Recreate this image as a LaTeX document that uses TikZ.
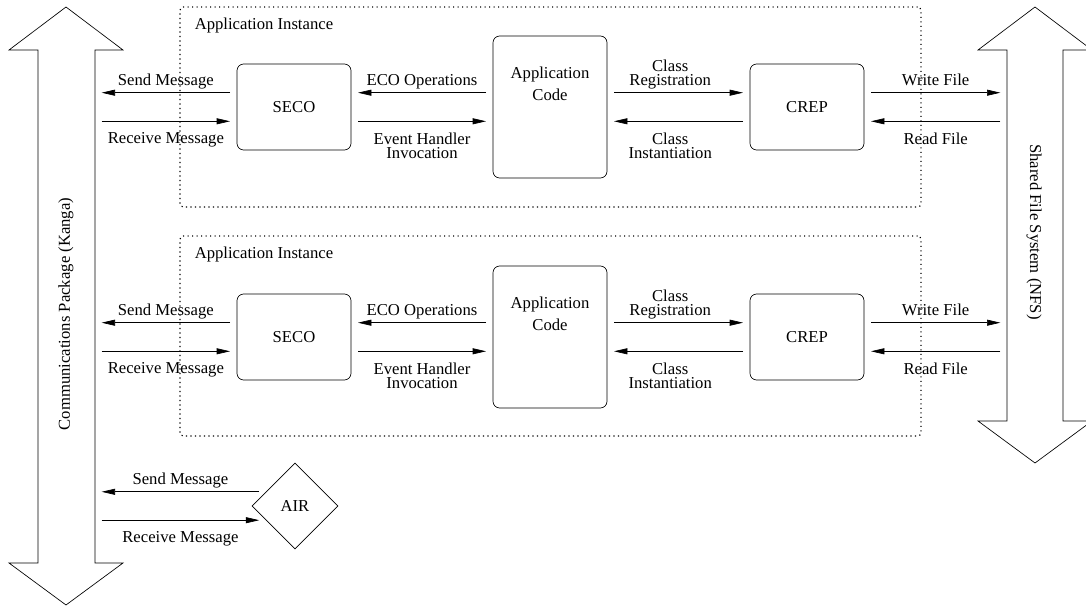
\documentclass[tikz,border=0pt]{standalone}
\usepackage{fontspec}
\setmainfont{Liberation Serif}
\usetikzlibrary{arrows.meta,shapes.geometric}

\tikzset{
    module/.style={draw, rounded corners=4pt, minimum width=68.4pt, minimum height=51.6pt},
    instance/.style={draw, line width=0.7pt, dash pattern=on 0.7pt off 2pt, rounded corners=2pt,
        minimum width=444.6pt, minimum height=120pt,
        label={[anchor=north west, inner sep=0pt, xshift=9pt, yshift=-6.6pt]north west:Application Instance}},
    appname/.style={anchor=north, inner sep=0pt, yshift=-18.6pt, align=center,
        font=\fontsize{10pt}{13pt}\selectfont},
    flow/.style={-{Triangle[length=8pt,width=3.6pt]}, shorten <=4pt, shorten >=4pt},
    lblup/.style={above=3pt, inner sep=1pt, text depth=0pt, align=center,
        font=\fontsize{10pt}{8.6pt}\selectfont},
    lbldown/.style={below=5.5pt, inner sep=1pt, align=center, font=\fontsize{10pt}{8.6pt}\selectfont}
}

\begin{document}
\begin{tikzpicture}[x=0.6pt, y=-0.6pt]
    \clip (0,0) rectangle (1086,607);

    % the two packages
    \draw (66,7) -- (123,50) -- (95,50) -- (95,563) -- (123,563) -- (66,605)
        -- (9,563) -- (38,563) -- (38,50) -- (9,50) -- cycle;
    \draw (1035,7) -- (1092,50) -- (1063,50) -- (1063,421) -- (1092,421) -- (1035,463)
        -- (978,421) -- (1007,421) -- (1007,50) -- (978,50) -- cycle;
    \coordinate (kanga) at (95,50);
    \coordinate (nfs) at (1007,50);
    \node[rotate=90] (kangalbl) at (66,314) {Communications Package (Kanga)};
    \node[rotate=-90] (nfslbl) at (1034,232) {Shared File System (NFS)};

    % first instance
    \node[instance] (inst1) at (550.5,107) {};
    \node[module] (seco1) at (294,107) {SECO};
    \node[module, minimum height=85.2pt, label={[appname]north:Application\\Code}] (app1) at (550,107) {};
    \node[module] (crep1) at (807,107) {CREP};
    \draw[flow] (seco1.166) -- (seco1.166 -| kanga) node[midway, lblup] {Send Message};
    \draw[flow] (seco1.194 -| kanga) -- (seco1.194) node[midway, lbldown] {Receive Message};
    \draw[flow] (app1.166) -- (seco1.14) node[midway, lblup] {ECO Operations};
    \draw[flow] (seco1.-14) -- (app1.194) node[midway, lbldown] {Event Handler\\Invocation};
    \draw[flow] (app1.14) -- (crep1.166) node[midway, lblup, xshift=-5pt] {Class\\Registration};
    \draw[flow] (crep1.194) -- (app1.-14) node[midway, lbldown, xshift=-5pt] {Class\\Instantiation};
    \draw[flow] (crep1.14) -- (crep1.14 -| nfs) node[midway, lblup] {Write File};
    \draw[flow] (crep1.-14 -| nfs) -- (crep1.-14) node[midway, lbldown] {Read File};

    % second instance
    \node[instance] (inst2) at (550.5,336) {};
    \node[module] (seco2) at (294,337) {SECO};
    \node[module, minimum height=85.2pt, label={[appname]north:Application\\Code}] (app2) at (550,337) {};
    \node[module] (crep2) at (807,337) {CREP};
    \draw[flow] (seco2.166) -- (seco2.166 -| kanga) node[midway, lblup] {Send Message};
    \draw[flow] (seco2.194 -| kanga) -- (seco2.194) node[midway, lbldown] {Receive Message};
    \draw[flow] (app2.166) -- (seco2.14) node[midway, lblup] {ECO Operations};
    \draw[flow] (seco2.-14) -- (app2.194) node[midway, lbldown] {Event Handler\\Invocation};
    \draw[flow] (app2.14) -- (crep2.166) node[midway, lblup, xshift=-5pt] {Class\\Registration};
    \draw[flow] (crep2.194) -- (app2.-14) node[midway, lbldown, xshift=-5pt] {Class\\Instantiation};
    \draw[flow] (crep2.14) -- (crep2.14 -| nfs) node[midway, lblup] {Write File};
    \draw[flow] (crep2.-14 -| nfs) -- (crep2.-14) node[midway, lbldown] {Read File};

    % AIR
    \node[draw, diamond, aspect=1, minimum width=51.6pt, minimum height=51.6pt, inner sep=1pt] (air) at (295,506) {AIR};
    \draw[flow] (air.154) -- (air.154 -| kanga) node[midway, lblup] {Send Message};
    \draw[flow] (air.206 -| kanga) -- (air.206) node[midway, lbldown] {Receive Message};
\end{tikzpicture}
\end{document}
